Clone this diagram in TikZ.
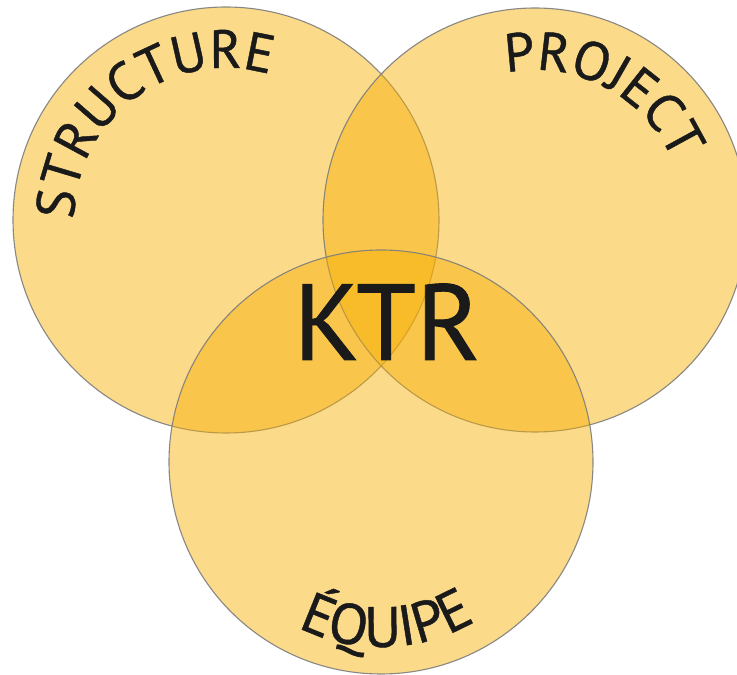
\documentclass[tikz,border=0pt]{standalone}
\usepackage{fontspec}
\newfontfamily\ktrfont{PT Sans}[FakeBold=0.8]
\usetikzlibrary{decorations.text}
\definecolor{ktrfill}{RGB}{248,175,1}
\definecolor{ktrline}{RGB}{125,125,125}
\definecolor{ktrtext}{RGB}{26,26,26}
\begin{document}
\begin{tikzpicture}[x=1pt,y=1pt,
  venn/.style={fill=ktrfill, fill opacity=0.46, draw=ktrline, draw opacity=0.9, line width=1.1pt},
  arclabel/.style={decorate, decoration={text along path, text align=center, text color=ktrtext}}]
\useasboundingbox (0,0) rectangle (737,675);
\fill[white] (0,0) rectangle (737,675);
\path[venn] (226,455) circle[radius=213];
\path[venn] (535,455) circle[radius=212];
\path[venn] (381,213) circle[radius=212];
\node[font=\ktrfont\fontsize{108}{108}\selectfont, text=ktrtext, anchor=base, inner sep=0pt] (ktr) at (387,315) {KTR};
\path[arclabel, decoration={text={|\ktrfont\fontsize{54}{54}\selectfont|STRUCTURE}}]
  ([shift={(181:152)}]226,455) arc[start angle=181, end angle=72, radius=152];
\path[arclabel, decoration={text={|\ktrfont\fontsize{54}{54}\selectfont|PROJECT}}]
  ([shift={(117:150)}]535,455) arc[start angle=117, end angle=7, radius=150];
\path[arclabel, decoration={text={|\ktrfont\fontsize{57}{57}\selectfont|ÉQUIPE}}]
  ([shift={(222:185)}]381,213) arc[start angle=222, end angle=322, radius=185];
\end{tikzpicture}
\end{document}
